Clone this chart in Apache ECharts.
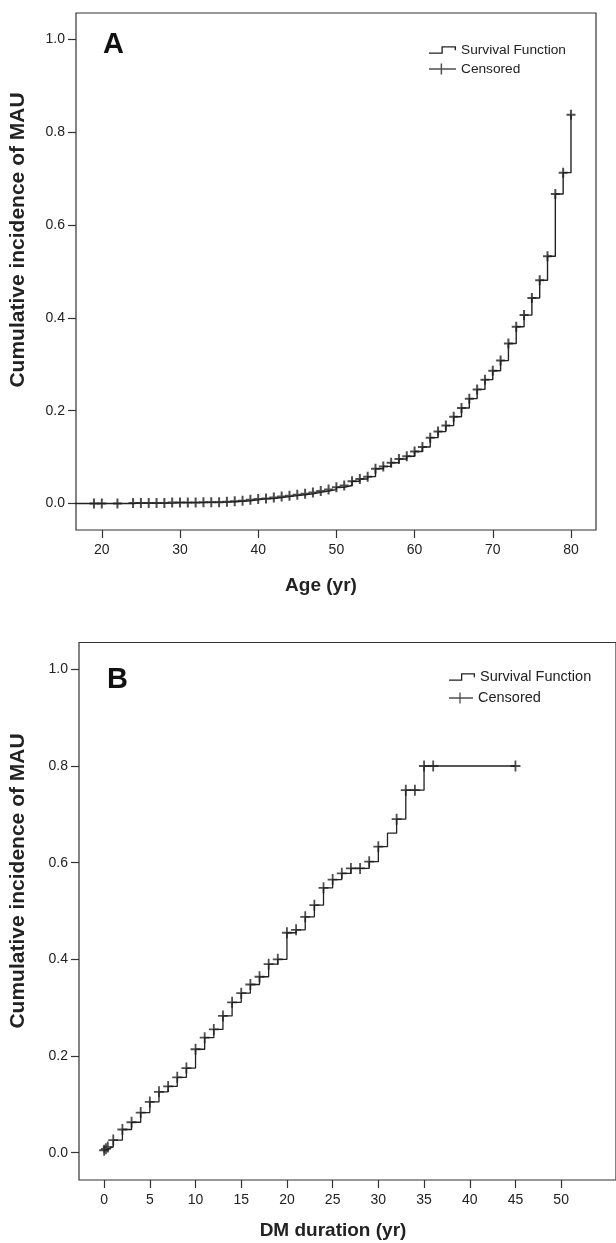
<!DOCTYPE html>
<html><head><meta charset="utf-8">
<script src="https://cdn.jsdelivr.net/npm/echarts@6/dist/echarts.min.js"></script>
<style>html,body{margin:0;padding:0;background:#fff}#c{width:616px;height:1243px}</style>
</head><body><div id="c"></div>
<script>
// ---------- Panel A: Age ----------
const stepAgeA = [0,19,20,22,24,25,26,27,28,29,30,31,32,33,34,35,36,37,38,39,40,41,42,43,44,45,46,47,48,49,50,51,52,53,54,55,56,57,58,59,60,61,62,63,64,65,66,67,68,69,70,71,72,73,74,75,76,77,78,79,80];
const stepIncA = [0,0,0,0,0.001,0.001,0.001,0.001,0.001,0.002,0.002,0.002,0.002,0.003,0.003,0.003,0.004,0.005,0.006,0.008,0.010,0.011,0.013,0.015,0.017,0.019,0.021,0.024,0.027,0.030,0.035,0.039,0.048,0.053,0.058,0.075,0.080,0.088,0.096,0.102,0.112,0.122,0.142,0.155,0.168,0.187,0.206,0.226,0.246,0.267,0.286,0.308,0.345,0.381,0.406,0.443,0.481,0.533,0.667,0.713,0.838];
const censorAgeA = [19,20,22,24,25,26,27,28,29,30,31,32,33,34,35,36,37,38,39,40,41,42,43,44,45,46,47,48,49,50,51,52,53,54,55,56,57,58,59,60,61,62,63,64,65,66,67,68,69,70,71,72,73,74,75,76,77,78,79,80];
const xTicksA = [20,30,40,50,60,70,80];

// ---------- Panel B: DM duration ----------
const stepDurB = [0,0,0.2,0.4,1,2,3,4,5,6,7,8,9,10,11,12,13,14,15,16,17,18,19,20,21,22,23,24,25,26,27,28,29,30,31,32,33,34,35,36,45];
const stepIncB = [0,0.005,0.008,0.012,0.026,0.048,0.063,0.083,0.105,0.126,0.137,0.156,0.175,0.214,0.238,0.255,0.283,0.311,0.330,0.348,0.364,0.390,0.400,0.455,0.461,0.488,0.512,0.548,0.565,0.578,0.588,0.588,0.602,0.633,0.661,0.690,0.750,0.750,0.800,0.800,0.800];
const censorDurB = [0,0.2,0.4,1,2,3,4,5,6,7,8,9,10,11,12,13,14,15,16,17,18,19,20,21,22,23,24,25,26,27,28,29,30,32,33,34,35,36,45];
const xTicksB = [0,5,10,15,20,25,30,35,40,45,50];

const yTicks = [0,0.2,0.4,0.6,0.8,1.0];
const labelsText = {
  yTitle: 'Cumulative incidence of MAU',
  xTitleA: 'Age (yr)', xTitleB: 'DM duration (yr)',
  survival: 'Survival Function', censored: 'Censored'
};

const FONT = '"Liberation Sans", Arial, Helvetica, sans-serif';
const INK = '#222';
const lookup = (times, vals, t) => vals[times.lastIndexOf(t)];
const stepPts = (ts, vs) => ts.map((t, i) => [t, vs[i]]);
const censorPts = (cs, ts, vs) => cs.map(t => [t, lookup(ts, vs, t)]);

const plusA = 'path://M3.5,0 H5.5 V4 H9 V6 H5.5 V10 H3.5 V6 H0 V4 H3.5 Z';
const plusB = 'path://M4.1,0 H5.9 V4.6 H10 V6.4 H5.9 V11 H4.1 V6.4 H0 V4.6 H4.1 Z';
const stepIcon = 'path://M0,6.2 H12 V0 H26 V4 H24.7 V1.3 H13.3 V7.5 H0 Z';
const plusIcon = 'path://M10.35,0 H11.65 V4.85 H24 V6.15 H11.65 V11 H10.35 V6.15 H0 V4.85 H10.35 Z';

function xAxisCfg(grid, min, max, ticks, margin) {
  return {gridIndex: grid, type: 'value', min, max, position: 'bottom',
    axisLine: {show: false, onZero: false}, splitLine: {show: false},
    axisTick: {show: true, inside: false, length: 8, customValues: ticks, lineStyle: {color: '#333', width: 1.2}},
    axisLabel: {customValues: ticks, margin, fontSize: 14, color: INK, fontFamily: FONT}};
}
function yAxisCfg(grid, min, max) {
  return {gridIndex: grid, type: 'value', min, max, position: 'left',
    axisLine: {show: false, onZero: false}, splitLine: {show: false},
    axisTick: {show: true, inside: false, length: 8, customValues: yTicks, lineStyle: {color: '#333', width: 1.2}},
    axisLabel: {customValues: yTicks, margin: 11, fontSize: 14, color: INK, fontFamily: FONT,
      formatter: v => v.toFixed(1)}};
}
function legendCfg(name, icon, left, top, w, h, fs) {
  return {data: [{name, icon}], left, top, orient: 'vertical', padding: 0,
    itemWidth: w, itemHeight: h, symbolKeepAspect: false, selectedMode: false,
    itemStyle: {color: INK, borderWidth: 0},
    textStyle: {fontSize: fs, color: INK, fontFamily: FONT, lineHeight: 16}};
}

const chart = echarts.init(document.getElementById('c'), null, {renderer: 'canvas'});
chart.setOption({
  backgroundColor: '#fff',
  animation: false,
  grid: [
    {left: 76, top: 13, width: 520, height: 517, show: true, borderColor: '#333', borderWidth: 1.2, backgroundColor: 'transparent'},
    {left: 79, top: 642.5, width: 570, height: 537.5, show: true, borderColor: '#333', borderWidth: 1.2, backgroundColor: 'transparent'}
  ],
  xAxis: [xAxisCfg(0, 16.7, 83.2, xTicksA, 13), xAxisCfg(1, -2.75, 56, xTicksB, 13)],
  yAxis: [yAxisCfg(0, -0.057, 1.057), yAxisCfg(1, -0.0565, 1.0555)],
  legend: [
    legendCfg(labelsText.survival, stepIcon, 429, 42, 27, 7.5, 13.7),
    legendCfg(labelsText.censored, plusIcon, 429, 61, 27, 11, 13.7),
    legendCfg(labelsText.survival, stepIcon, 449, 669, 26, 7.5, 14.5),
    legendCfg(labelsText.censored, plusIcon, 449, 690, 24, 11, 14.5)
  ],
  series: [
    {name: labelsText.survival, type: 'line', xAxisIndex: 0, yAxisIndex: 0, step: 'end', showSymbol: false, symbol: 'none',
      color: INK, lineStyle: {color: INK, width: 1.4}, data: stepPts(stepAgeA, stepIncA), z: 2},
    {name: labelsText.censored, type: 'scatter', xAxisIndex: 0, yAxisIndex: 0, symbol: plusA, symbolSize: [9, 10],
      symbolKeepAspect: false, color: INK, itemStyle: {color: INK}, data: censorPts(censorAgeA, stepAgeA, stepIncA), z: 3},
    {name: labelsText.survival, type: 'line', xAxisIndex: 1, yAxisIndex: 1, step: 'end', showSymbol: false, symbol: 'none',
      color: INK, lineStyle: {color: INK, width: 1.3}, data: stepPts(stepDurB, stepIncB), z: 2},
    {name: labelsText.censored, type: 'scatter', xAxisIndex: 1, yAxisIndex: 1, symbol: plusB, symbolSize: [10, 11],
      symbolKeepAspect: false, color: INK, itemStyle: {color: INK}, data: censorPts(censorDurB, stepDurB, stepIncB), z: 3}
  ],
  graphic: [
    {type: 'text', x: 103, y: 45, style: {text: 'A', font: 'bold 29px ' + FONT, fill: '#111', textVerticalAlign: 'middle'}},
    {type: 'text', x: 107, y: 680, style: {text: 'B', font: 'bold 29px ' + FONT, fill: '#111', textVerticalAlign: 'middle'}},
    {type: 'text', x: 18, y: 240, rotation: Math.PI / 2, scaleX: 1.05,
      style: {text: labelsText.yTitle, font: 'bold 20px ' + FONT, fill: INK, textAlign: 'center', textVerticalAlign: 'middle'}},
    {type: 'text', x: 18, y: 881, rotation: Math.PI / 2, scaleX: 1.05,
      style: {text: labelsText.yTitle, font: 'bold 20px ' + FONT, fill: INK, textAlign: 'center', textVerticalAlign: 'middle'}},
    {type: 'text', x: 321, y: 586, style: {text: labelsText.xTitleA, font: 'bold 19px ' + FONT, fill: INK, textAlign: 'center', textVerticalAlign: 'middle'}},
    {type: 'text', x: 333, y: 1231, style: {text: labelsText.xTitleB, font: 'bold 19px ' + FONT, fill: INK, textAlign: 'center', textVerticalAlign: 'middle'}}
  ]
});
</script></body></html>
